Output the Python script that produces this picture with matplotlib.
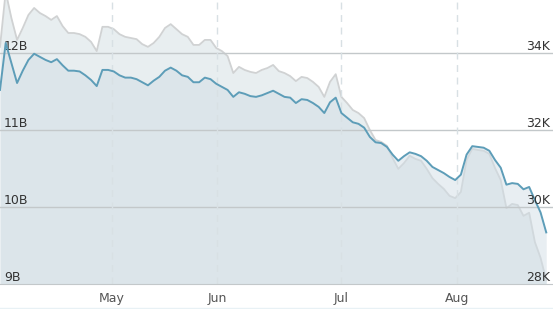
import matplotlib
matplotlib.use("Agg")
import matplotlib.pyplot as plt
import numpy as np

# blue series (left axis, billions) and gray series (right axis, thousands)
blue = [11.52, 12.13, 11.87, 11.61, 11.77, 11.91, 11.99, 11.95, 11.91, 11.88,
        11.92, 11.84, 11.77, 11.77, 11.76, 11.71, 11.65, 11.57, 11.78, 11.78,
        11.76, 11.71, 11.68, 11.68, 11.66, 11.62, 11.58, 11.64, 11.69, 11.77,
        11.81, 11.77, 11.71, 11.69, 11.62, 11.62, 11.68, 11.66, 11.60, 11.56,
        11.52, 11.43, 11.49, 11.47, 11.44, 11.43, 11.45, 11.48, 11.51, 11.47,
        11.43, 11.42, 11.35, 11.40, 11.39, 11.35, 11.30, 11.22, 11.36, 11.42,
        11.22, 11.16, 11.10, 11.08, 11.03, 10.91, 10.84, 10.83, 10.78, 10.68,
        10.60, 10.66, 10.71, 10.69, 10.66, 10.60, 10.52, 10.48, 10.44, 10.39,
        10.35, 10.42, 10.68, 10.79, 10.78, 10.77, 10.73, 10.61, 10.51, 10.29,
        10.31, 10.30, 10.23, 10.26, 10.09, 9.93, 9.67]
gray = [34.16, 35.59, 34.91, 34.34, 34.65, 34.99, 35.17, 35.04, 34.96, 34.86,
        34.96, 34.70, 34.52, 34.52, 34.49, 34.42, 34.29, 34.05, 34.68, 34.68,
        34.62, 34.49, 34.42, 34.39, 34.36, 34.23, 34.16, 34.26, 34.42, 34.65,
        34.75, 34.62, 34.49, 34.42, 34.21, 34.21, 34.34, 34.34, 34.13, 34.05,
        33.92, 33.48, 33.64, 33.56, 33.51, 33.48, 33.56, 33.61, 33.69, 33.53,
        33.48, 33.40, 33.27, 33.38, 33.35, 33.25, 33.12, 32.86, 33.25, 33.45,
        32.86, 32.70, 32.52, 32.44, 32.31, 32.00, 31.74, 31.69, 31.59, 31.27,
        30.99, 31.14, 31.33, 31.25, 31.20, 30.99, 30.75, 30.60, 30.47, 30.29,
        30.23, 30.39, 31.22, 31.51, 31.48, 31.46, 31.38, 31.01, 30.70, 29.97,
        30.08, 30.05, 29.77, 29.85, 29.09, 28.68, 28.10]
months = ["May", "Jun", "Jul", "Aug"]
month_pos = [19.7, 38.2, 59.9, 80.3]
left_ticks = [9, 10, 11, 12]
left_labels = ["9B", "10B", "11B", "12B"]
right_ticks = [28, 30, 32, 34]
right_labels = ["28K", "30K", "32K", "34K"]

x = np.arange(len(blue))

fig = plt.figure(figsize=(5.53, 3.09), dpi=100)
ax = fig.add_axes([0, 25 / 309, 1, 284 / 309])
ax2 = ax.twinx()
ax.set_zorder(ax2.get_zorder() + 1)
ax.patch.set_visible(False)
ax2.set_facecolor("#eef5f8")

ax.set_xlim(0, 553 / 5.69)
ax.set_ylim(9, 12.688)
ax2.set_ylim(28, 35.377)

# gray series on the lower (right-scale) axes
ax2.fill_between(x, gray, 28, color="#e8eef0", lw=0)
ax2.plot(x, gray, color="#d0d2d3", lw=1.3)
ax2.set_yticks([])

# blue series on top
ax.fill_between(x, blue, 9, color="#d2dee6", alpha=0.5, lw=0)
for v in left_ticks[1:]:
    ax.axhline(v, color="#c3c8ca", lw=1, zorder=2)
for p in month_pos:
    ax.axvline(p, color="#d8e0e4", lw=1, ls=(0, (5, 4)), zorder=2)
ax.plot(x, blue, color="#5d9db8", lw=1.4, zorder=3)

ax.set_xticks(month_pos)
ax.set_xticklabels(months)
ax.set_yticks(left_ticks)
ax.set_yticklabels(left_labels, ha="left", va="bottom")
ax.tick_params(axis="x", length=0, pad=6, labelsize=9, labelcolor="#555555")
ax.tick_params(axis="y", length=0, pad=-3, labelsize=9, labelcolor="#333333")

# right-hand labels, tied to the left scale (12B <-> 34K, 9B <-> 28K)
sec = ax.secondary_yaxis("right", functions=(lambda b: 28 + 2 * (b - 9),
                                              lambda k: 9 + (k - 28) / 2))
sec.set_zorder(10)
sec.set_yticks(right_ticks)
sec.set_yticklabels(right_labels, ha="right", va="bottom")
sec.tick_params(axis="y", length=0, pad=-2, labelsize=9, labelcolor="#333333")
sec.spines["right"].set_visible(False)

for a in (ax, ax2):
    for s in a.spines.values():
        s.set_visible(False)
ax.spines["bottom"].set_visible(True)
ax.spines["bottom"].set_color("#c3c8ca")

# thin rule along the foot of the figure
fig.add_artist(plt.Line2D([0, 1], [1.5 / 309, 1.5 / 309],
                          transform=fig.transFigure, color="#e8f1f5", lw=1))

fig.savefig("out.png", dpi=100)
